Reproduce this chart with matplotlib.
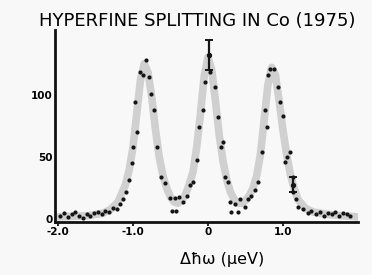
import matplotlib
matplotlib.use("Agg")
import matplotlib.pyplot as plt

# ---- data ----
title = "HYPERFINE SPLITTING IN Co (1975)"
xlabel = "Δħω (μeV)"
xtick_vals = [-2.0, -1.0, 0.0, 1.0]
xtick_labels = ["-2.0", "-1.0", "0", "1.0"]
ytick_vals = [0, 50, 100]
ytick_labels = ["0", "50", "100"]

# measured points (energy transfer, counts)
data_x = [-1.97, -1.92, -1.87, -1.82, -1.77, -1.72, -1.67, -1.62, -1.57, -1.52,
          -1.47, -1.42, -1.37, -1.32, -1.27, -1.22, -1.17, -1.13, -1.09, -1.05,
          -1.01, -1.00, -0.95, -0.97, -0.91, -0.87, -0.83, -0.79, -0.76, -0.72,
          -0.68, -0.63, -0.57, -0.51, -0.44, -0.39, -0.48, -0.43, -0.33, -0.28,
          -0.24, -0.20, -0.15, -0.12, -0.07, -0.04, 0.03,
          0.09, 0.13, 0.17, 0.20, 0.23, 0.27, 0.29, 0.31, 0.36, 0.40,
          0.43, 0.49, 0.53, 0.57, 0.63, 0.67, 0.72, 0.76, 0.79, 0.80,
          0.83, 0.88, 0.93, 0.96, 1.00, 1.03, 1.05, 1.09, 1.13, 1.14,
          1.18, 1.20, 1.27, 1.33, 1.38, 1.44, 1.50, 1.55, 1.60, 1.65,
          1.70, 1.75, 1.80, 1.85, 1.90]
data_y = [3, 5, 2, 4, 6, 3, 1, 4, 3, 5,
          6, 4, 7, 6, 9, 8, 12, 16, 22, 32,
          45, 58, 70, 94, 118, 116, 128, 114, 101, 88,
          58, 34, 29, 17, 17, 18, 7, 7, 14, 19,
          28, 30, 48, 74, 88, 110, 118,
          106, 82, 58, 62, 34, 30, 14, 6, 12, 6,
          16, 10, 16, 19, 24, 30, 54, 88, 74, 116,
          121, 121, 106, 94, 83, 46, 50, 54, 34, 22,
          16, 10, 8, 5, 7, 4, 6, 3, 5, 4,
          6, 3, 5, 4, 3]

# points carrying error bars
err_x = [0.02, 1.13]
err_y = [132, 28]
err_e = [12, 6]

# fitted curve (grey band)
fit_x = [-2.0, -1.6, -1.4, -1.3, -1.2, -1.1, -1.05, -1.0, -0.95, -0.9, -0.85,
         -0.8, -0.75, -0.7, -0.65, -0.6, -0.55, -0.5, -0.45, -0.4, -0.35, -0.3,
         -0.25, -0.2, -0.15, -0.1, -0.05, 0.0, 0.05, 0.1, 0.15, 0.2, 0.25, 0.3,
         0.35, 0.4, 0.45, 0.5, 0.55, 0.6, 0.65, 0.7, 0.75, 0.8, 0.85, 0.9, 0.95,
         1.0, 1.05, 1.1, 1.15, 1.2, 1.3, 1.4, 1.6, 2.0]
fit_y = [2, 3, 5, 8, 14, 28, 40, 58, 85, 112, 125,
         118, 98, 72, 50, 35, 25, 18, 14, 13, 15, 20,
         28, 38, 58, 85, 115, 130, 120, 95, 68, 47, 32, 22,
         16, 13, 13, 15, 19, 25, 35, 52, 80, 108, 122, 116, 95,
         72, 52, 36, 25, 16, 9, 6, 4, 2]

# ---- drawing ----
fig = plt.figure(figsize=(3.72, 2.75), dpi=100)
fig.patch.set_facecolor("#f8f8f8")
ax = fig.add_axes([0.148, 0.193, 0.814, 0.698])
ax.set_facecolor("none")

ax.plot(fit_x, fit_y, color="#d0d0d0", lw=5.5, solid_joinstyle="round",
        solid_capstyle="round", zorder=1)
ax.scatter(data_x, data_y, s=9, color="#151515", zorder=3, linewidths=0)
ax.errorbar(err_x, err_y, yerr=err_e, fmt="o", ms=2.8, color="#151515",
            ecolor="#151515", elinewidth=1.6, capsize=3, capthick=1.4, zorder=4)

ax.set_xlim(-2.04, 2.0)
ax.set_ylim(-2, 152)

for s in ["top", "right"]:
    ax.spines[s].set_visible(False)
ax.spines["left"].set_linewidth(2.0)
ax.spines["bottom"].set_linewidth(2.0)
ax.spines["left"].set_color("#111111")
ax.spines["bottom"].set_color("#111111")

ax.set_xticks(xtick_vals)
ax.set_xticklabels(xtick_labels, fontsize=7.5, fontweight="bold")
ax.set_yticks(ytick_vals)
ax.set_yticklabels(ytick_labels, fontsize=7.5, fontweight="bold")
ax.tick_params(axis="x", length=3, width=1.2, pad=1)
ax.tick_params(axis="y", length=0, pad=2)

fig.text(0.597, 0.058, xlabel, ha="center", va="center", fontsize=11.5)
fig.text(0.53, 0.925, title, ha="center", va="center", fontsize=13)

fig.savefig("out.png", dpi=100, facecolor=fig.get_facecolor())
